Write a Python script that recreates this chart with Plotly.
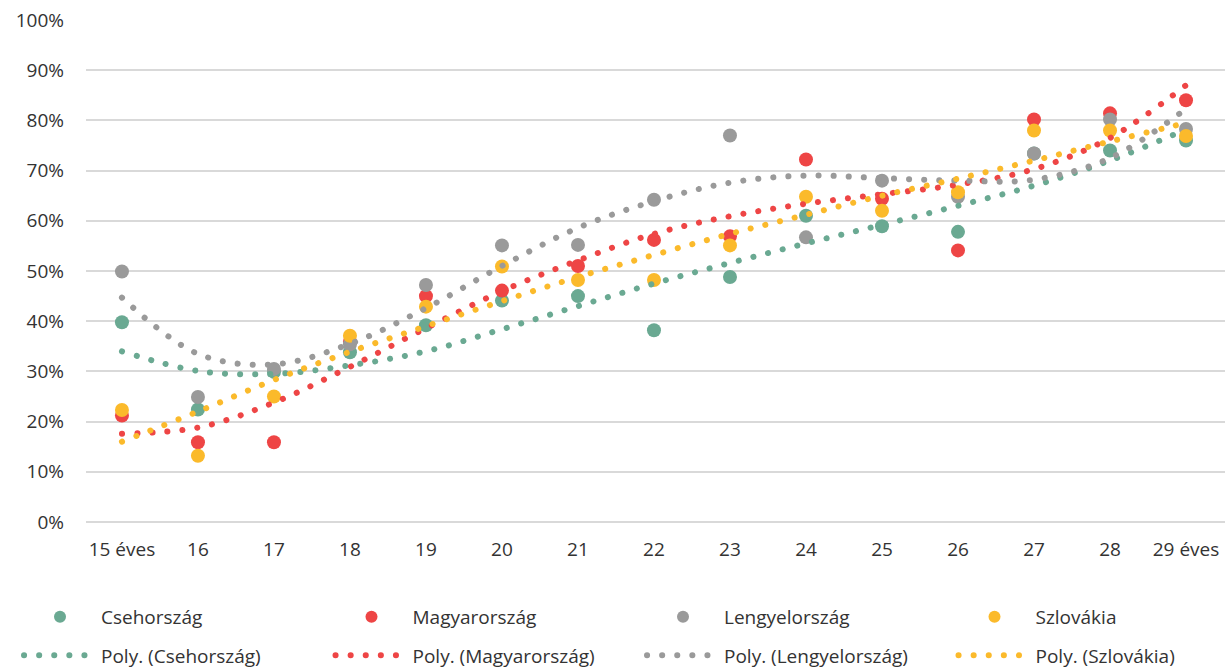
import plotly.graph_objects as go

# ---- data ----
ages = [15, 16, 17, 18, 19, 20, 21, 22, 23, 24, 25, 26, 27, 28, 29]
age_labels = ["15 éves", "16", "17", "18", "19", "20", "21", "22", "23", "24",
              "25", "26", "27", "28", "29 éves"]

countries = ["Csehország", "Magyarország", "Lengyelország", "Szlovákia"]

cz = [39.8, 22.4, 29.9, 33.8, 39.2, 44.1, 45.0, 38.2, 48.8, 61.0, 58.9, 57.8, 73.4, 74.0, 76.0]
hu = [21.2, 15.9, 15.9, 35.9, 45.0, 46.1, 51.0, 56.2, 56.9, 72.2, 64.4, 54.1, 80.2, 81.4, 84.0]
pl = [49.9, 24.9, 30.5, 35.4, 47.2, 55.1, 55.2, 64.2, 77.0, 56.7, 68.0, 64.8, 73.4, 80.2, 78.3]
sk = [22.3, 13.2, 25.0, 37.1, 42.9, 50.9, 48.2, 48.2, 55.1, 64.8, 62.0, 65.7, 78.0, 78.0, 76.9]

# polynomial trendlines as drawn in the reference (values read at each age)
cz_trend = [34.0, 30.1, 29.5, 31.2, 34.0, 38.4, 43.0, 47.5, 51.6, 55.5, 59.2, 63.0, 67.0, 72.0, 78.2]
hu_trend = [17.6, 18.8, 23.8, 30.9, 38.6, 46.0, 52.1, 57.4, 60.9, 63.4, 65.3, 67.2, 70.3, 76.5, 87.0]
pl_trend = [44.7, 33.5, 31.4, 35.5, 42.6, 51.0, 58.6, 63.9, 67.6, 69.0, 68.5, 68.0, 68.2, 72.5, 82.3]
sk_trend = [16.0, 22.0, 28.3, 33.9, 39.0, 44.0, 48.8, 53.2, 57.4, 61.2, 65.0, 68.4, 72.0, 75.8, 79.5]

colors = ["#6aa992", "#ee4545", "#9a9a9a", "#fbba2b"]

values = [cz, hu, pl, sk]
trends = [cz_trend, hu_trend, pl_trend, sk_trend]

W, H = 1230, 668
ML, MR, MT, MB = 86, 5, 20, 146
PW, PH = W - ML - MR, H - MT - MB

font_family = "Open Sans, Noto Sans, sans-serif"
text_color = "#333333"
FS = 19


def px_to_paper_x(px):
    return (px - ML) / PW


def px_to_paper_y(py):
    return (H - MB - py) / PH


legend_cols_px = [19, 330.5, 642, 953.5]
legend_rows_px = [617, 655.5]

fig = go.Figure()
legends = {}
k = 0
for row, (series, is_trend) in enumerate([(values, False), (trends, True)]):
    for col, (name, vals, c) in enumerate(zip(countries, series, colors)):
        k += 1
        lname = "legend" if k == 1 else f"legend{k}"
        if is_trend:
            tr = go.Scatter(
                x=ages, y=vals, mode="lines", name=f"Poly. ({name})",
                line=dict(color=c, width=6, dash="0.1px,15px", shape="spline", smoothing=1),
                hoverinfo="skip", legend=lname,
            )
        else:
            tr = go.Scatter(
                x=ages, y=vals, mode="markers", name=name,
                marker=dict(color=c, size=14, line=dict(width=0)),
                hoverinfo="skip", legend=lname,
            )
        fig.add_trace(tr)
        legends[lname] = dict(
            x=px_to_paper_x(legend_cols_px[col]), xanchor="left",
            y=px_to_paper_y(legend_rows_px[row]), yanchor="middle",
            orientation="v", itemwidth=72,
            itemsizing="trace" if is_trend else "constant",
            font=dict(family=font_family, size=FS, color=text_color),
            bgcolor="rgba(0,0,0,0)", borderwidth=0,
        )

fig.update_layout(
    width=W, height=H,
    margin=dict(l=ML, r=MR, t=MT, b=MB, autoexpand=False),
    paper_bgcolor="white", plot_bgcolor="white",
    font=dict(family=font_family, size=FS, color=text_color),
    showlegend=True,
    xaxis=dict(
        range=[14.527, 29.513],
        tickmode="array", tickvals=ages, ticktext=age_labels,
        showgrid=False, zeroline=False, showline=False,
        ticks="", ticklabelstandoff=14, automargin=False,
        tickfont=dict(size=FS, color=text_color),
    ),
    yaxis=dict(
        range=[0, 100], dtick=10, ticksuffix="%",
        showgrid=True, gridcolor="#d9d9d9", gridwidth=1.8,
        zeroline=True, zerolinecolor="#d9d9d9", zerolinewidth=1.8,
        showline=False, ticks="", ticklabelstandoff=21, automargin=False,
        tickfont=dict(size=FS, color=text_color),
    ),
    **legends,
)

post = """
document.documentElement.style.margin='0';
document.body.style.margin='0';
document.body.style.overflow='hidden';
function rc(){
  document.querySelectorAll('.scatterlayer .js-line, .legendlines path').forEach(function(p){
    p.style.strokeLinecap='round';
  });
}
rc();
var gd=document.getElementById('{plot_id}');
if(gd && gd.on){ gd.on('plotly_afterplot', rc); }
"""

fig.write_html("out.html", post_script=post, config={"displayModeBar": False})
